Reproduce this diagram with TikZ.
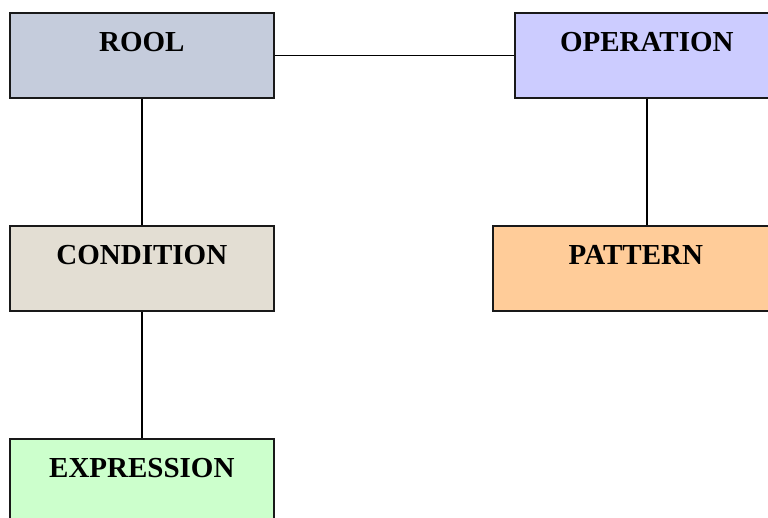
\documentclass[tikz,border=0pt]{standalone}
\usepackage{fontspec}
\setmainfont{Liberation Serif}
\definecolor{roolc}{RGB}{197,204,220}
\definecolor{operc}{RGB}{204,204,255}
\definecolor{condc}{RGB}{227,222,211}
\definecolor{pattc}{RGB}{255,204,153}
\definecolor{exprc}{RGB}{204,255,204}
\begin{document}
\begin{tikzpicture}[x=1pt,y=-1pt,
  box/.style={draw=black!90, line width=1.7pt, rectangle, inner sep=0pt,
    minimum width=264pt, minimum height=85pt, text height=39pt, text depth=46pt,
    font=\fontsize{29}{30}\selectfont\bfseries, anchor=north west},
  link/.style={draw=black, line width=1.6pt}]
\useasboundingbox (0,0) rectangle (768,517);
\clip (0,0) rectangle (768,517);
\node[box, fill=roolc] (rool) at (9,12) {ROOL};
\node[box, fill=operc] (oper) at (514,12) {OPERATION};
\node[box, fill=condc] (cond) at (9,225) {CONDITION};
\node[box, fill=pattc, minimum width=286pt] (patt) at (492,225) {PATTERN};
\node[box, fill=exprc] (expr) at (9,438) {EXPRESSION};
\draw[link] (rool.east) -- (oper.west);
\draw[link] (rool.south) -- (cond.north);
\draw[link] (cond.south) -- (expr.north);
\draw[link] (oper.south) -- (oper.south |- patt.north);
\end{tikzpicture}
\end{document}
